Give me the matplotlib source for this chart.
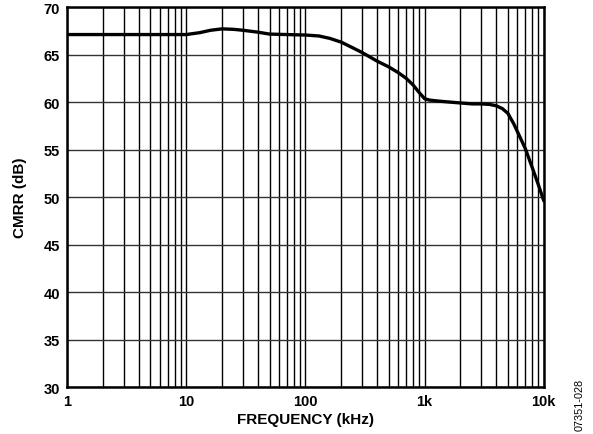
import matplotlib
matplotlib.use("Agg")
import matplotlib.pyplot as plt
from matplotlib.ticker import LogLocator, NullFormatter, FixedLocator

plt.rcParams['font.family'] = ['Liberation Sans', 'DejaVu Sans']

# frequency (kHz) and CMRR (dB)
freq = [1, 2, 5, 10, 13, 16, 20, 25, 30, 40, 50, 70, 100, 130, 160, 200, 250,
        300, 400, 500, 600, 700, 800, 900, 1000, 1100, 1300, 1600, 2000, 2500,
        3000, 3500, 4000, 4500, 5000, 5600, 6000, 7000, 8000, 9000, 10000]
cmrr = [67.1, 67.1, 67.1, 67.1, 67.3, 67.55, 67.7, 67.65, 67.55, 67.35, 67.15,
        67.1, 67.05, 66.95, 66.7, 66.3, 65.7, 65.2, 64.3, 63.7, 63.1, 62.5,
        61.8, 61.0, 60.35, 60.2, 60.1, 60.0, 59.9, 59.8, 59.8, 59.75, 59.6,
        59.3, 58.8, 57.7, 56.9, 55.1, 53.1, 51.3, 49.6]

xticks = [1, 10, 100, 1000, 10000]
xticklabels = ["1", "10", "100", "1k", "10k"]
yticks = [30, 35, 40, 45, 50, 55, 60, 65, 70]

fig = plt.figure(figsize=(5.93, 4.35), dpi=100)
ax = fig.add_axes([0.113, 0.108, 0.804, 0.8736])

ax.plot(freq, cmrr, color="black", lw=2.4, solid_capstyle="round", zorder=3)

ax.set_xscale("log")
ax.set_xlim(1, 10000)
ax.set_ylim(30, 70)
ax.xaxis.set_major_locator(FixedLocator(xticks))
ax.xaxis.set_minor_locator(LogLocator(base=10, subs=range(2, 10)))
ax.xaxis.set_minor_formatter(NullFormatter())
ax.set_xticks(xticks)
ax.set_xticklabels(xticklabels)
ax.set_yticks(yticks)

ax.grid(which="both", axis="x", color="black", lw=1.0)
ax.grid(which="major", axis="y", color="#333333", lw=1.0)
ax.tick_params(which="both", length=0, pad=5, labelsize=10.5)
for lab in ax.get_xticklabels() + ax.get_yticklabels():
    lab.set_fontweight("bold")

for s in ax.spines.values():
    s.set_linewidth(1.8)

ax.set_xlabel("FREQUENCY (kHz)", fontsize=11, fontweight="bold", labelpad=3)
ax.set_ylabel("CMRR (dB)", fontsize=11, fontweight="bold", labelpad=12)

fig.text(0.978, 0.068, "07351-028", rotation=90, fontsize=7.8, ha="center", va="center")

fig.savefig("out.png", dpi=100)
